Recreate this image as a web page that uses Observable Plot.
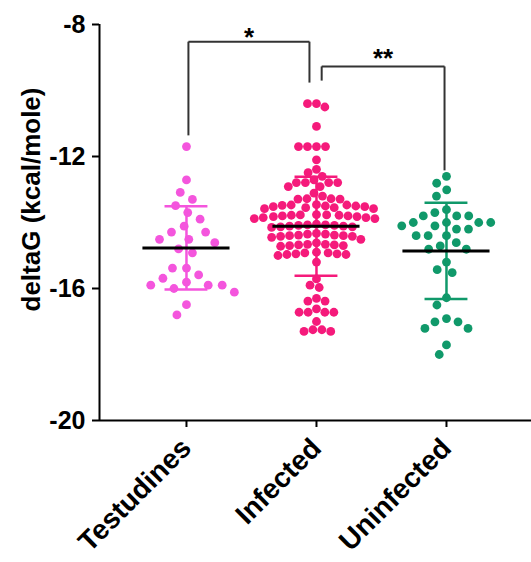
<!DOCTYPE html>
<html><head><meta charset="utf-8">
<script src="https://cdn.jsdelivr.net/npm/d3@7"></script>
<script src="https://cdn.jsdelivr.net/npm/@observablehq/plot@0.6"></script>
<style>
body{margin:0;background:#fff}
#chart svg{display:block}
g[aria-label="y-axis tick"], g[aria-label="x-axis tick"]{stroke-width:2px}
g[aria-label="x-axis tick label"]{font-size:28px}
</style>
</head><body><div id="chart"></div>
<script>
const categories = ["Testudines", "Infected", "Uninfected"];
const colors = ["#f455dd", "#f51a7b", "#10996a"];
const testudines = [-11.70,-12.71,-13.09,-13.30,-13.49,-13.70,-13.90,-14.11,-14.29,-14.29,-14.51,-14.51,-14.61,-14.80,-14.92,-15.38,-15.38,-15.59,-15.69,-15.81,-15.90,-15.90,-15.90,-16.00,-16.11,-16.49,-16.80];
const infected = [-10.40,-10.50,-10.40,-11.09,-11.70,-11.70,-11.70,-11.70,-12.10,-12.39,-12.49,-12.60,-12.71,-12.79,-12.79,-12.79,-12.79,-12.91,-12.91,-13.11,-13.20,-13.28,-13.28,-13.29,-13.29,
  -13.46,-13.47,-13.48,-13.50,-13.52,-13.55,-13.58,-13.58,-13.55,-13.52,-13.50,-13.47,
  -13.76,-13.77,-13.78,-13.80,-13.82,-13.85,-13.88,-13.88,-13.85,-13.82,-13.80,-13.78,-13.77,
  -14.05,-14.07,-14.09,-14.11,-14.13,-14.15,-14.13,-14.11,-14.09,-14.07,
  -14.33,-14.35,-14.38,-14.40,-14.42,-14.45,-14.42,-14.40,-14.38,-14.35,
  -14.51,-14.62,
  -14.66,-14.68,-14.70,-14.72,-14.70,-14.68,-14.66,
  -14.90,-14.92,-14.95,-14.97,-15.00,-14.97,-14.95,-14.92,
  -15.20,-15.71,-15.97,-15.90,-16.38,-16.30,-16.38,
  -16.72,-16.72,-16.72,-16.72,-16.62,-17.00,-17.25,-17.30,-17.30,-17.25];
const uninfected = [-12.60,-12.81,-13.01,-13.20,-13.61,-13.80,-13.80,-13.80,-13.70,
  -14.10,-14.00,-14.00,-14.00,-14.00,-14.10,-14.20,-14.20,-14.40,-14.40,-14.40,-14.61,-14.71,-14.81,-14.81,
  -15.20,-15.43,-15.52,-16.28,-16.50,-17.01,-16.91,-17.01,-17.21,-17.21,-17.71,-18.00];
const means = [-14.77, -14.11, -14.86];
const sds = [1.26, 1.50, 1.46];
const yTicks = [-8, -12, -16, -20];
const yDomain = [-20, -8];
const yLabel = "deltaG (kcal/mole)";
// significance brackets
const bracketFrom = [0.015, 1.04];
const bracketTo = [0.946, 1.985];
const bracketTop = [-8.52, -9.27];
const bracketLeftEnd = [-11.36, -9.70];
const bracketRightEnd = [-9.76, -12.42];
const bracketLabels = ["*", "**"];
const bracketLabelY = [-8.41, -9.05];

const W = 531, H = 562, ML = 99, MR = 0, MT = 24, MB = 142;
const xDomain = [-0.669, 2.654];
const kx = (W - ML - MR) / (xDomain[1] - xDomain[0]);
const ky = (H - MT - MB) / (yDomain[1] - yDomain[0]);
const R = 4.4;
const spacing = [14, 9, 12];

function swarm(values, gi) {
  const D = spacing[gi];
  const sorted = values.slice().sort((a, b) => b - a);
  const placed = [];
  for (const v of sorted) {
    const py = v * ky;
    const cands = [0];
    for (const q of placed) {
      const dy = Math.abs(q.py - py);
      if (dy < D) { const w = Math.sqrt(D * D - dy * dy); cands.push(q.px - w, q.px + w); }
    }
    cands.sort((a, b) => Math.abs(a) - Math.abs(b) || a - b);
    let px = 0;
    for (const c of cands) {
      if (placed.every(q => (q.px - c) ** 2 + (q.py - py) ** 2 >= D * D - 1e-6)) { px = c; break; }
    }
    placed.push({px, py, v});
  }
  return placed.map(q => ({gi, group: categories[gi], value: q.v, x: gi + q.px / kx}));
}

const points = [testudines, infected, uninfected].flatMap((vals, gi) => swarm(vals, gi));
const stats = categories.map((c, i) => ({i, c, mean: means[i], lo: means[i] - sds[i], hi: means[i] + sds[i], color: colors[i]}));
const brackets = bracketLabels.map((l, i) => ({l, x1: bracketFrom[i], x2: bracketTo[i], top: bracketTop[i], le: bracketLeftEnd[i], re: bracketRightEnd[i], ly: bracketLabelY[i]}));
const bracketSegs = brackets.flatMap(b => [
  {x1: b.x1, x2: b.x2, y1: b.top, y2: b.top},
  {x1: b.x1, x2: b.x1, y1: b.top, y2: b.le},
  {x1: b.x2, x2: b.x2, y1: b.top, y2: b.re}
]);

const chart = Plot.plot({
  width: W, height: H,
  marginLeft: ML, marginRight: MR, marginTop: MT, marginBottom: MB,
  style: {fontFamily: "'Liberation Sans', Arial, sans-serif", fontSize: "25px", fontWeight: "bold", color: "#000", background: "#fff"},
  x: {type: "linear", domain: xDomain, ticks: [0, 1, 2], tickFormat: i => categories[i], tickRotate: -45, tickSize: 7, tickPadding: 16, label: null},
  y: {domain: yDomain, ticks: yTicks, tickSize: 7, tickPadding: 7, tickFormat: d => String(d), label: null},
  marks: [
    Plot.dot(points, {x: "x", y: "value", r: R, fill: d => colors[d.gi], stroke: "none"}),
    Plot.ruleX(stats, {x: "i", y1: "lo", y2: "hi", stroke: "color", strokeWidth: 2.5}),
    Plot.ruleY(stats, {y: "lo", x1: d => d.i - 0.165, x2: d => d.i + 0.165, stroke: "color", strokeWidth: 2.5}),
    Plot.ruleY(stats, {y: "hi", x1: d => d.i - 0.165, x2: d => d.i + 0.165, stroke: "color", strokeWidth: 2.5}),
    Plot.ruleY(stats, {y: "mean", x1: d => d.i - 0.335, x2: d => d.i + 0.335, stroke: "#000", strokeWidth: 3}),
    Plot.link(bracketSegs, {x1: "x1", x2: "x2", y1: "y1", y2: "y2", stroke: "#333", strokeWidth: 2}),
    Plot.text(brackets, {x: d => (d.x1 + d.x2) / 2, y: "ly", text: "l", fontSize: 26, fontWeight: "bold", fill: "#000"}),
    Plot.ruleY([yDomain[0]], {stroke: "#000", strokeWidth: 2}),
    Plot.ruleX([xDomain[0]], {stroke: "#000", strokeWidth: 2}),
    Plot.text([yLabel], {frameAnchor: "left", textAnchor: "middle", rotate: -90, dx: -68, dy: -23, fontSize: 26, fontWeight: "bold", fill: "#000"})
  ]
});
document.getElementById("chart").appendChild(chart);
</script>
</body></html>
